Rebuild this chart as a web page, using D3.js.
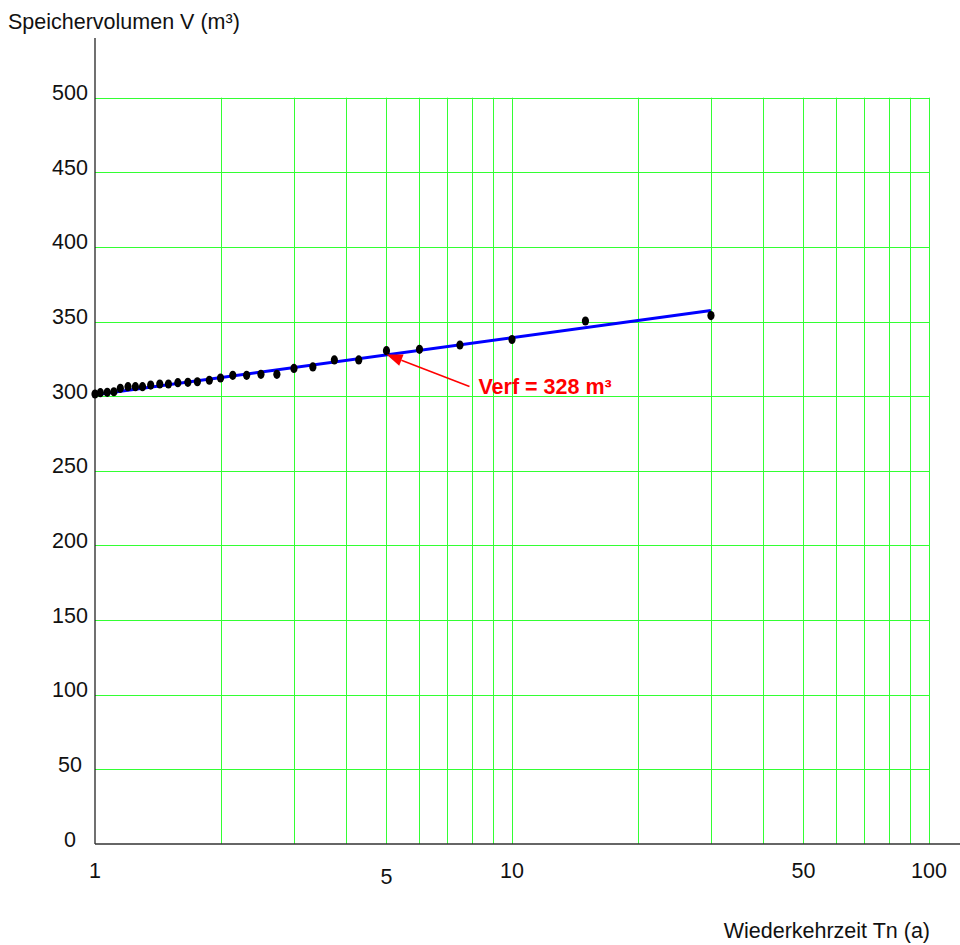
<!DOCTYPE html>
<html>
<head>
<meta charset="utf-8">
<script src="https://cdn.jsdelivr.net/npm/d3@7"></script>
<style>
    body { margin: 0; background: #fff; }
    text { font-family: Arial, "Liberation Sans", sans-serif; }
</style>
</head>
<body>
<div id="chart"></div>
<script>
// Data
const returnPeriods = [30, 15, 10, 7.5, 6, 5, 4.29, 3.75, 3.33, 3, 2.73, 2.5, 2.31, 2.14, 2,
    1.88, 1.76, 1.67, 1.58, 1.5, 1.43, 1.36, 1.3, 1.25, 1.2, 1.15, 1.11, 1.07, 1.03, 1];
const volumes = [354, 350.4, 338, 334.3, 331.4, 330.5, 324.3, 324.3, 319.6, 318.6, 314.7, 314.7, 314, 314, 312.2,
    310.7, 309.7, 309.3, 309.1, 308.2, 308.2, 307.5, 306.4, 306.4, 306.4, 305.3, 303, 302.6, 302.4, 301.5];

// Fitted line (end points)
const fitT = [1, 30];
const fitV = [301, 357.5];

// Design value annotation
const designT = 5;
const designV = 328;
const designLabel = "Verf = 328 m³";

// Axes
const xTicks = [1, 5, 10, 50, 100];
const xGrid = [2, 3, 4, 5, 6, 7, 8, 9, 10, 20, 30, 40, 50, 60, 70, 80, 90, 100];
const yTicks = [0, 50, 100, 150, 200, 250, 300, 350, 400, 450, 500];

const WIDTH = 960;
const HEIGHT = 945;
const FONT = 21.5;

const svg = d3.select("#chart")
    .append("svg")
    .attr("width", WIDTH)
    .attr("height", HEIGHT);

const x = d3.scaleLog()
    .domain([1, 100])
    .range([95, 929]);

const y = d3.scaleLinear()
    .domain([0, 500])
    .range([844, 97.7]);

// Grid
const grid = svg.append("g")
    .attr("stroke", "#33ff33")
    .attr("stroke-width", 1);

grid.selectAll(".hgrid")
    .data(yTicks.filter(d => d > 0))
    .enter()
    .append("line")
    .attr("x1", x(1))
    .attr("x2", x(100))
    .attr("y1", d => Math.round(y(d)) + 0.5)
    .attr("y2", d => Math.round(y(d)) + 0.5);

grid.selectAll(".vgrid")
    .data(xGrid)
    .enter()
    .append("line")
    .attr("x1", d => Math.round(x(d)) + 0.5)
    .attr("x2", d => Math.round(x(d)) + 0.5)
    .attr("y1", y(0))
    .attr("y2", y(500));

// Axis lines
svg.append("line")
    .attr("x1", x(1))
    .attr("x2", x(1))
    .attr("y1", y(0))
    .attr("y2", y(540))
    .attr("stroke", "#111")
    .attr("stroke-width", 1.2);

svg.append("line")
    .attr("x1", x(1))
    .attr("x2", WIDTH)
    .attr("y1", y(0))
    .attr("y2", y(0))
    .attr("stroke", "#333")
    .attr("stroke-width", 1.4);

// Tick labels
svg.selectAll(".ylabel")
    .data(yTicks)
    .enter()
    .append("text")
    .attr("x", 70)
    .attr("y", d => y(d) + 2.5)
    .attr("text-anchor", "middle")
    .attr("font-size", FONT)
    .attr("fill", "#111")
    .text(d => d);

svg.selectAll(".xlabel")
    .data(xTicks)
    .enter()
    .append("text")
    .attr("x", d => x(d))
    .attr("y", d => d === 5 ? 884 : 878)
    .attr("text-anchor", "middle")
    .attr("font-size", FONT)
    .attr("fill", "#111")
    .text(d => d);

// Axis titles
svg.append("text")
    .attr("x", 8)
    .attr("y", 29)
    .attr("font-size", FONT)
    .attr("fill", "#111")
    .text("Speichervolumen V (m³)");

svg.append("text")
    .attr("x", 930)
    .attr("y", 938)
    .attr("text-anchor", "end")
    .attr("font-size", FONT)
    .attr("fill", "#111")
    .text("Wiederkehrzeit Tn (a)");

// Fitted line
svg.append("line")
    .attr("x1", x(fitT[0]))
    .attr("y1", y(fitV[0]))
    .attr("x2", x(fitT[1]))
    .attr("y2", y(fitV[1]))
    .attr("stroke", "#0000ff")
    .attr("stroke-width", 3);

// Data points
svg.selectAll(".pt")
    .data(returnPeriods.map((t, i) => ({ t, v: volumes[i] })))
    .enter()
    .append("ellipse")
    .attr("cx", d => x(d.t))
    .attr("cy", d => y(d.v))
    .attr("rx", 3.6)
    .attr("ry", 4.6)
    .attr("fill", "#000");

// Annotation arrow
const tipX = x(designT), tipY = y(designV);
const tailX = tipX + 83, tailY = tipY + 32;
const ang = Math.atan2(tailY - tipY, tailX - tipX);
const headLen = 16, headW = 6;
const bx = tipX + headLen * Math.cos(ang), by = tipY + headLen * Math.sin(ang);

svg.append("line")
    .attr("x1", tailX)
    .attr("y1", tailY)
    .attr("x2", bx)
    .attr("y2", by)
    .attr("stroke", "#ff0000")
    .attr("stroke-width", 1.5);

svg.append("path")
    .attr("d", `M${tipX},${tipY}
        L${bx - headW * Math.sin(ang)},${by + headW * Math.cos(ang)}
        L${bx + headW * Math.sin(ang)},${by - headW * Math.cos(ang)}Z`)
    .attr("fill", "#ff0000");

svg.append("text")
    .attr("x", tipX + 92)
    .attr("y", tipY + 40)
    .attr("font-size", FONT)
    .attr("font-weight", "bold")
    .attr("fill", "#ff0000")
    .text(designLabel);
</script>
</body>
</html>
